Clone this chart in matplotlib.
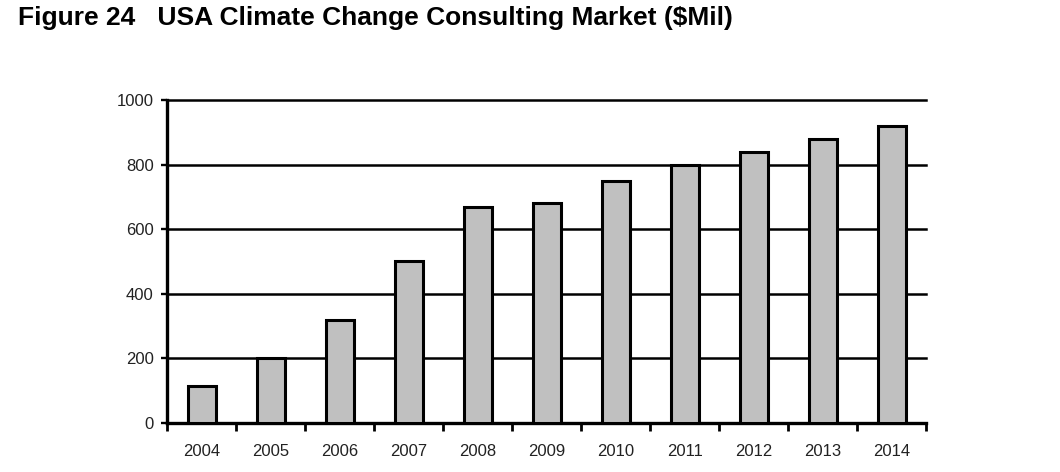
import matplotlib
matplotlib.use("Agg")
import matplotlib.pyplot as plt

years = ["2004", "2005", "2006", "2007", "2008", "2009",
         "2010", "2011", "2012", "2013", "2014"]
market_mil = [115, 200, 320, 500, 670, 680, 750, 800, 840, 880, 920]
y_ticks = [0, 200, 400, 600, 800, 1000]

plt.rcParams["font.family"] = ["Liberation Sans", "DejaVu Sans"]

fig = plt.figure(figsize=(10.6, 4.72), dpi=100)
ax = fig.add_axes([0.158, 0.104, 0.716, 0.684])

x = list(range(len(years)))
ax.bar(x, market_mil, width=0.4, color="#c0c0c0", edgecolor="black",
       linewidth=2.2, zorder=3)

ax.set_xlim(-0.5, len(years) - 0.5)
ax.set_ylim(0, 1000)
ax.set_yticks(y_ticks)
ax.set_yticklabels([str(v) for v in y_ticks], fontsize=12, color="#222222")
ax.yaxis.grid(True, color="black", linewidth=1.8, zorder=0)
# keep the 1000 line full width instead of half clipped at the top
for gl in ax.get_ygridlines():
    gl.set_clip_on(False)

# category boundaries carry the x ticks, labels sit in the middle
ax.set_xticks([i - 0.5 for i in range(len(years) + 1)])
ax.set_xticklabels([])
ax.set_xticks(x, minor=True)
ax.set_xticklabels(years, minor=True, fontsize=12, color="#222222")
ax.tick_params(axis="x", which="minor", length=0, pad=15)
ax.tick_params(axis="x", which="major", length=6, width=2, direction="out")
ax.tick_params(axis="y", length=4, width=1.7, direction="out", pad=6)

for side in ("top", "right"):
    ax.spines[side].set_visible(False)
for side in ("left", "bottom"):
    ax.spines[side].set_linewidth(2.4)

fig.text(0.017, 0.962, "Figure 24   USA Climate Change Consulting Market ($Mil)",
         fontsize=19, fontweight="bold", va="center", ha="left")

fig.savefig("out.png", dpi=100)
